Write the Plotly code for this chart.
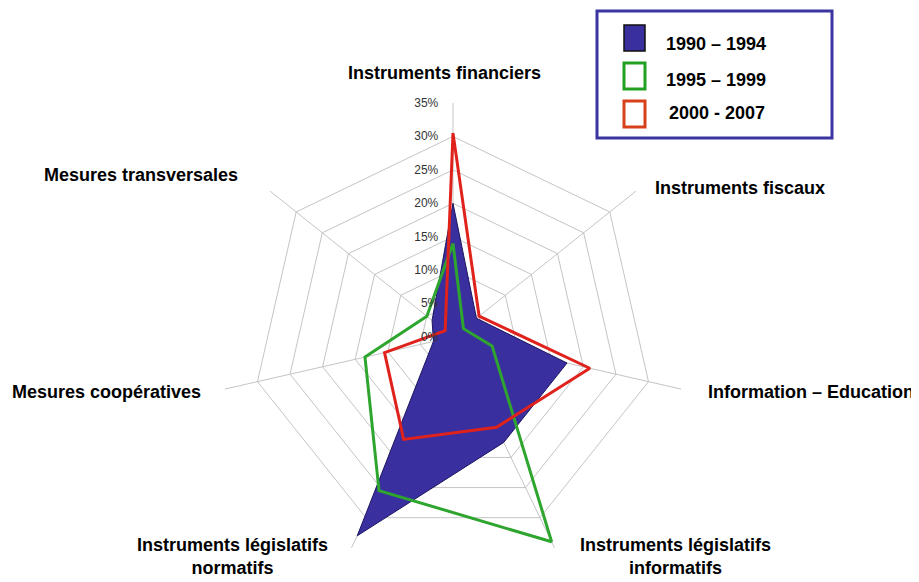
import plotly.graph_objects as go

categories = [
    "Instruments financiers",
    "Instruments fiscaux",
    "Information – Education",
    "Instruments législatifs<br>informatifs",
    "Instruments législatifs<br>normatifs",
    "Mesures coopératives",
    "Mesures transversales",
]
series_names = ["1990 – 1994", "1995 – 1999", "2000 - 2007"]
values_1990_1994 = [20, 4.5, 17.5, 17.5, 33, 3, 4]
values_1995_1999 = [14, 2, 6, 34, 25.5, 13.5, 5]
values_2000_2007 = [30.5, 5, 21, 15, 17, 10.5, 1.5]
radial_ticks = [0, 5, 10, 15, 20, 25, 30, 35]

W, H = 919, 582
OFF = 8  # page body margin of the browser
FONT = "Liberation Sans, Arial, sans-serif"
BLUE, GREEN, RED = "#3a2f9e", "#2ea52e", "#e0221c"


def closed(v):
    return list(v) + [v[0]]


def px(x, y):
    return (x - OFF) / W, 1 - (y - OFF) / H


theta = closed(categories)

fig = go.Figure()
fig.add_trace(go.Scatterpolar(
    r=closed(values_1990_1994), theta=theta, name=series_names[0],
    mode="lines", fill="toself", fillcolor=BLUE,
    line=dict(color="#1c1660", width=1), showlegend=False,
))
fig.add_trace(go.Scatterpolar(
    r=closed(values_1995_1999), theta=theta, name=series_names[1],
    mode="lines", line=dict(color=GREEN, width=3), showlegend=False,
))
fig.add_trace(go.Scatterpolar(
    r=closed(values_2000_2007), theta=theta, name=series_names[2],
    mode="lines", line=dict(color=RED, width=3), showlegend=False,
))

# category labels placed around the web (layout positions, in pixels)
label_pos = [
    (444, 73, "center"),
    (653, 188, "left"),
    (706, 392, "left"),
    (675, 556, "center"),
    (232, 556, "center"),
    (203, 392, "right"),
    (240, 175, "right"),
]
annotations = []
for text, (lx, ly, anchor) in zip(categories, label_pos):
    ax_, ay_ = px(lx, ly)
    annotations.append(dict(
        text=text, x=ax_, y=ay_, xref="paper", yref="paper",
        xanchor=anchor, yanchor="middle", align="center", showarrow=False,
        font=dict(family=FONT, size=18, color="black", weight="bold"),
    ))

# legend box drawn as in the original figure
shapes = []
x0, y0 = px(597, 11)
x1, y1 = px(832, 138)
shapes.append(dict(type="rect", xref="paper", yref="paper", x0=x0, y0=y1, x1=x1, y1=y0,
                   line=dict(color="#3a35a0", width=3), fillcolor="white", layer="above"))
legend_styles = [
    dict(fill=BLUE, line="#111111", lw=1.5),
    dict(fill="white", line="#22a022", lw=3),
    dict(fill="white", line="#d8401a", lw=3),
]
symbol_rows = [38, 76, 114]
text_rows = [(664, 43.5), (664, 79.5), (667, 113)]
for name, st, cy, (tx0, ty0) in zip(series_names, legend_styles, symbol_rows, text_rows):
    sx0, sy0 = px(624, cy - 13)
    sx1, sy1 = px(645, cy + 13)
    shapes.append(dict(type="rect", xref="paper", yref="paper", x0=sx0, y0=sy1, x1=sx1, y1=sy0,
                       line=dict(color=st["line"], width=st["lw"]), fillcolor=st["fill"],
                       layer="above"))
    tx, ty = px(tx0, ty0)
    annotations.append(dict(
        text=name, x=tx, y=ty, xref="paper", yref="paper",
        xanchor="left", yanchor="middle", showarrow=False,
        font=dict(family=FONT, size=18, color="black", weight="bold"),
    ))

fig.update_layout(
    width=W, height=H,
    margin=dict(l=0, r=0, t=0, b=0),
    paper_bgcolor="white",
    plot_bgcolor="white",
    showlegend=False,
    polar=dict(
        domain=dict(x=[0.2296, 0.7388], y=[0.0326, 0.8368]),
        bgcolor="white",
        gridshape="linear",
        angularaxis=dict(
            direction="clockwise", rotation=90,
            showline=False, showticklabels=False, ticks="",
            gridcolor="#c4c4c4", gridwidth=1,
        ),
        radialaxis=dict(
            range=[0, 35], tickvals=radial_ticks,
            ticktext=[f"{t}%" for t in radial_ticks],
            angle=90, tickangle=90, side="counterclockwise",
            showline=False, ticks="outside", ticklen=10, tickcolor="rgba(0,0,0,0)",
            gridcolor="#c4c4c4", gridwidth=1,
            tickfont=dict(family=FONT, size=12, color="#333333"),
        ),
    ),
    shapes=shapes,
    annotations=annotations,
)

fig.write_html("out.html")
